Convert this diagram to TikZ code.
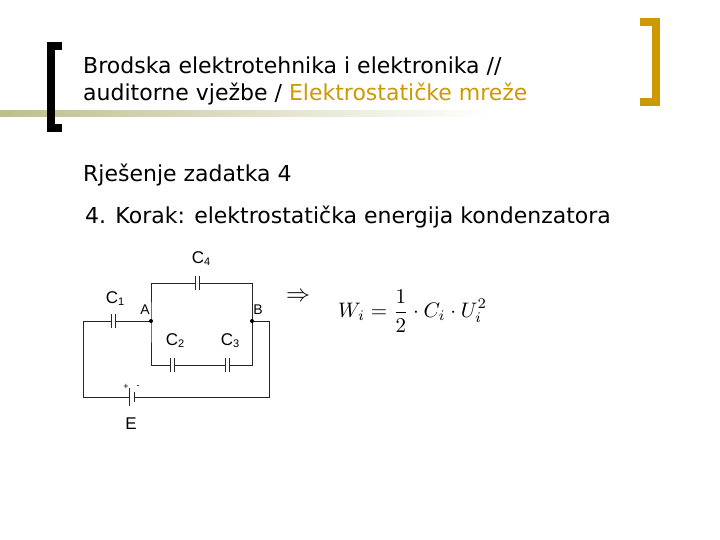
\documentclass[tikz,border=0pt]{standalone}
\usepackage{fontspec}
\setmainfont{DejaVu Sans}
\newfontfamily\lab{Liberation Sans}
\definecolor{gold}{RGB}{204,153,0}
\definecolor{olive}{RGB}{190,190,140}
\begin{document}
\begin{tikzpicture}[x=1pt,y=-1pt,
  wire/.style={line width=0.9pt,black!85},
  plate/.style={line width=0.9pt,black!85},
  lbl/.style={font=\lab\fontsize{17}{17}\selectfont,inner sep=0pt},
  ttl/.style={anchor=west,inner sep=0pt,font=\fontsize{22}{24}\selectfont}]
\useasboundingbox (0,0) rectangle (720,540);
% header
\shade[left color=olive,right color=white] (0,111) rectangle (490,117);
\draw[line width=8pt] (62,46) -- (51,46) -- (51,128) -- (62,128);
\draw[gold,line width=8pt] (640,22) -- (656,22) -- (656,102) -- (640,102);
\node[ttl] (t1) at (83,66) {Brodska elektrotehnika i elektronika //};
\node[ttl] (t2) at (83,94) {auditorne vježbe / \textcolor{gold}{Elektrostatičke mreže}};
\node[ttl] (t3) at (83,175) {Rješenje zadatka 4};
\node[ttl] (t4) at (85,217) {4. Korak: elektrostatička energija kondenzatora};
% circuit coordinates
\coordinate (A) at (151,321); \coordinate (B) at (252,321);
\coordinate (LT) at (83,321); \coordinate (LB) at (83,397);
\coordinate (RT) at (269,321); \coordinate (RB) at (269,397);
\coordinate (AT) at (151,283); \coordinate (BT) at (252,283);
\coordinate (AB) at (151,365); \coordinate (BB) at (252,365);
% wires with gaps
\draw[wire] (111,321) -- (LT) -- (LB) -- (129,397);
\draw[wire] (134,397) -- (RB) -- (RT) -- (B);
\draw[wire] (115,321) -- (A);
\draw[wire] (AB) -- (A) -- (AT) -- (195,283);
\draw[wire] (199,283) -- (BT) -- (BB) -- (229,365);
\draw[wire] (225,365) -- (174,365);
\draw[wire] (170,365) -- (AB);
% plates
\draw[plate] (111,314) -- (111,328) (115,314) -- (115,328);
\draw[plate] (195,276) -- (195,290) (199,276) -- (199,290);
\draw[plate] (170,358) -- (170,372) (174,358) -- (174,372);
\draw[plate] (225,358) -- (225,372) (229,358) -- (229,372);
\draw[plate] (129,388) -- (129,406) (134,392) -- (134,402);
\fill (A) circle (2pt) (B) circle (2pt);
% labels
\node[lbl] (lC4) at (201,259) {C{\fontsize{11}{11}\selectfont\raisebox{-2pt}{4}}};
\node[lbl] (lC1) at (115,299) {C{\fontsize{11}{11}\selectfont\raisebox{-2pt}{1}}};
\node[lbl,font=\lab\fontsize{14}{14}\selectfont] (lA) at (145,310) {A};
\node[lbl,font=\lab\fontsize{14}{14}\selectfont] (lB) at (258,310) {B};
\node[lbl] (lC2) at (175,341) {C{\fontsize{11}{11}\selectfont\raisebox{-2pt}{2}}};
\node[lbl] (lC3) at (230,341) {C{\fontsize{11}{11}\selectfont\raisebox{-2pt}{3}}};
\node[lbl] (lE) at (131,424) {E};
\node[lbl,font=\lab\fontsize{9}{9}\selectfont] (lp) at (126,387) {+};
\node[lbl,font=\lab\fontsize{9}{9}\selectfont] (lm) at (138,387) {-};
\node[inner sep=0pt] (arr) at (298,297) {\scalebox{2.4}{$\Rightarrow$}};
\node[inner sep=0pt,anchor=west] (f) at (338,311) {\scalebox{2.1}{$\displaystyle W_i=\frac{1}{2}\cdot C_i\cdot U_i^2$}};
\end{tikzpicture}
\end{document}
